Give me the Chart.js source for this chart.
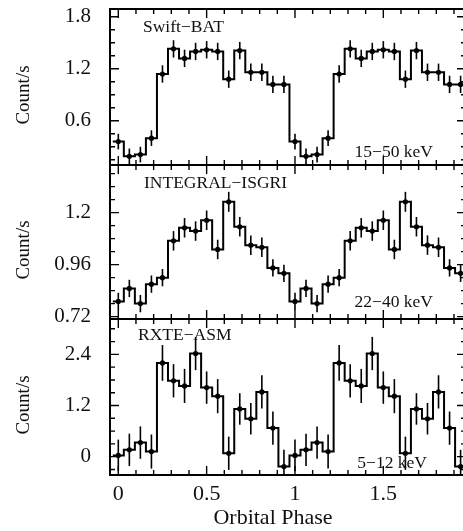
<!DOCTYPE html>
<html>
<head>
<meta charset="utf-8">
<script src="https://cdn.jsdelivr.net/npm/chart.js@4.4.1/dist/chart.umd.min.js"></script>
<style>
html, body { margin: 0; padding: 0; background: #fff; width: 463px; height: 531px; overflow: hidden; }
canvas { position: absolute; left: 0; top: 0; }
</style>
</head>
<body>
<canvas id="bat" width="470" height="531" style="width:470px;height:531px"></canvas>
<canvas id="isgri" width="470" height="531" style="width:470px;height:531px"></canvas>
<canvas id="asm" width="470" height="531" style="width:470px;height:531px"></canvas>
<script>
// orbital phase bin centres (light curve shown twice)
const phase = [0, 0.0625, 0.125, 0.1875, 0.25, 0.3125, 0.375, 0.4375,
    0.5, 0.5625, 0.625, 0.6875, 0.75, 0.8125, 0.875, 0.9375,
    1, 1.0625, 1.125, 1.1875, 1.25, 1.3125, 1.375, 1.4375,
    1.5, 1.5625, 1.625, 1.6875, 1.75, 1.8125, 1.875, 1.9375];
const binHalf = 0.03125;

// Swift-BAT 15-50 keV, one cycle
const batRate = [0.36, 0.19, 0.21, 0.40, 1.14, 1.43, 1.32, 1.40, 1.42, 1.40, 1.08, 1.41, 1.16, 1.16, 1.02, 1.02];
const batErr  = [0.09, 0.09, 0.09, 0.09, 0.10, 0.10, 0.10, 0.10, 0.10, 0.10, 0.10, 0.10, 0.10, 0.10, 0.10, 0.10];

// INTEGRAL-ISGRI 22-40 keV, one cycle
const isgriRate = [0.79, 0.85, 0.78, 0.87, 0.90, 1.07, 1.13, 1.115, 1.165, 1.03, 1.25, 1.135, 1.05, 1.04, 0.945, 0.92];
const isgriErr  = [0.04, 0.04, 0.04, 0.04, 0.04, 0.045, 0.045, 0.045, 0.045, 0.045, 0.046, 0.045, 0.045, 0.045, 0.04, 0.04];

// RXTE-ASM 5-12 keV, one cycle
const asmRate = [0.03, 0.16, 0.33, 0.12, 2.20, 1.78, 1.66, 2.42, 1.62, 1.42, 0.08, 1.12, 0.89, 1.52, 0.67, -0.23];
const asmErr  = [0.37, 0.38, 0.38, 0.40, 0.42, 0.39, 0.40, 0.39, 0.38, 0.40, 0.39, 0.37, 0.37, 0.39, 0.39, 0.39];

// axis ticks
const xTicks = [0, 0.5, 1, 1.5];
const batTicks = [0.6, 1.2, 1.8];
const isgriTicks = [0.72, 0.96, 1.2];
const asmTicks = [0, 1.2, 2.4];

const serif = '"Liberation Serif", "DejaVu Serif", serif';
const ink = '#111';

function stepPoints(rate) {
    const v = rate.concat(rate);
    const pts = phase.map((p, i) => ({x: p - binHalf, y: v[i]}));
    pts.push({x: phase[phase.length - 1] + binHalf, y: v[v.length - 1]});
    return pts;
}

function centrePoints(rate) {
    const v = rate.concat(rate);
    return phase.map((p, i) => ({x: p, y: v[i]}));
}

// error bars, frame, inward ticks and labels
function deco(cfg) {
    return {
        id: 'deco',
        afterDatasetsDraw(chart) {
            const {ctx, chartArea: a, scales: {x, y}} = chart;
            const ds = chart.data.datasets[1];
            const err = cfg.err.concat(cfg.err);

            ctx.save();
            ctx.beginPath();
            ctx.rect(a.left, a.top, a.right - a.left, a.bottom - a.top);
            ctx.clip();
            ctx.strokeStyle = '#000';
            ctx.lineWidth = 1.6;
            ds.data.forEach((p, i) => {
                const px = x.getPixelForValue(p.x);
                ctx.beginPath();
                ctx.moveTo(px, y.getPixelForValue(p.y - err[i]));
                ctx.lineTo(px, y.getPixelForValue(p.y + err[i]));
                ctx.stroke();
            });
            ctx.restore();

            ctx.save();
            ctx.strokeStyle = '#000';
            ctx.lineWidth = 2;
            ctx.strokeRect(a.left, a.top, a.right - a.left, a.bottom - a.top);

            ctx.lineWidth = 1.4;
            for (let i = 0; i <= 19; i++) {
                const v = i / 10;
                const len = i % 5 === 0 ? 9 : 5;
                const px = x.getPixelForValue(v);
                ctx.beginPath();
                ctx.moveTo(px, a.top); ctx.lineTo(px, a.top + len);
                ctx.moveTo(px, a.bottom); ctx.lineTo(px, a.bottom - len);
                ctx.stroke();
            }
            for (let v = cfg.minorStart; v <= y.max + 1e-9; v += cfg.minorStep) {
                const major = cfg.ticks.some(t => Math.abs(t - v) < 1e-6);
                const len = major ? 9 : 5;
                const py = y.getPixelForValue(v);
                ctx.beginPath();
                ctx.moveTo(a.left, py); ctx.lineTo(a.left + len, py);
                ctx.moveTo(a.right, py); ctx.lineTo(a.right - len, py);
                ctx.stroke();
            }

            ctx.fillStyle = ink;
            ctx.font = '17.5px ' + serif;
            ctx.textBaseline = 'middle';
            ctx.textAlign = 'left';
            ctx.fillText(cfg.name, cfg.nameX, cfg.nameY);
            ctx.textAlign = 'right';
            ctx.fillText(cfg.band, cfg.bandX, cfg.bandY);

            ctx.font = '19px ' + serif;
            ctx.textAlign = 'center';
            ctx.translate(24, (a.top + a.bottom) / 2 + 8);
            ctx.rotate(-Math.PI / 2);
            ctx.fillText('Count/s', 0, 0);
            ctx.restore();

            if (cfg.xTitle) {
                ctx.save();
                ctx.fillStyle = ink;
                ctx.font = '22px ' + serif;
                ctx.textAlign = 'center';
                ctx.textBaseline = 'middle';
                ctx.fillText(cfg.xTitle, 273, 518);
                ctx.restore();
            }
        }
    };
}

function makePanel(id, rate, cfg) {
    return new Chart(id, {
        type: 'line',
        data: {
            datasets: [
                {
                    data: stepPoints(rate),
                    stepped: 'before',
                    borderColor: '#000',
                    borderWidth: 2,
                    pointRadius: 0,
                    fill: false,
                },
                {
                    data: centrePoints(rate),
                    showLine: false,
                    pointRadius: 2.6,
                    pointBackgroundColor: '#000',
                    pointBorderWidth: 0,
                }]
        },
        options: {
            responsive: false,
            animation: false,
            devicePixelRatio: 1,
            layout: {
                padding: {left: 0, right: 4, top: cfg.top, bottom: cfg.bottom},
            },
            scales: {
                x: {
                    type: 'linear',
                    min: -0.047,
                    max: 1.968,
                    display: cfg.showX,
                    grid: {display: false, drawTicks: false},
                    border: {display: false},
                    afterBuildTicks: (s) => { s.ticks = xTicks.map(v => ({value: v})); },
                    afterFit: (s) => {
                        s.height = cfg.showX ? 40 : 0;
                        s.paddingLeft = 0;
                        s.paddingRight = 0;
                    },
                    ticks: {
                        padding: 6,
                        color: ink,
                        font: {family: serif, size: 22},
                        callback: (v) => String(v),
                        maxRotation: 0,
                    },
                },
                y: {
                    min: cfg.min,
                    max: cfg.max,
                    grid: {display: false, drawTicks: false},
                    border: {display: false},
                    afterBuildTicks: (s) => { s.ticks = cfg.ticks.map(v => ({value: v})); },
                    afterFit: (s) => { s.width = 110; s.paddingTop = 0; s.paddingBottom = 0; },
                    ticks: {
                        padding: 19,
                        color: ink,
                        font: {family: serif, size: 21},
                        callback: (v) => String(v),
                    },
                },
            },
            plugins: {
                legend: {display: false},
                tooltip: {enabled: false},
            },
        },
        plugins: [deco(cfg)],
    });
}

makePanel('bat', batRate, {
    top: 9, bottom: 531 - 165, showX: false, min: 0.09, max: 1.89,
    ticks: batTicks, minorStart: 0.15, minorStep: 0.15, err: batErr,
    name: 'Swift\u2212BAT', nameX: 143, nameY: 27,
    band: '15\u221250 keV', bandX: 433, bandY: 152,
});

makePanel('isgri', isgriRate, {
    top: 165, bottom: 531 - 319, showX: false, min: 0.709, max: 1.42,
    ticks: isgriTicks, minorStart: 0.72, minorStep: 0.06, err: isgriErr,
    name: 'INTEGRAL\u2212ISGRI', nameX: 144, nameY: 183,
    band: '22\u221240 keV', bandX: 433, bandY: 302,
});

makePanel('asm', asmRate, {
    top: 319, bottom: 531 - 475 - 40, showX: true, min: -0.43, max: 3.23,
    ticks: asmTicks, minorStart: -0.3, minorStep: 0.3, err: asmErr,
    name: 'RXTE\u2212ASM', nameX: 138, nameY: 335,
    band: '5\u221212 keV', bandX: 427, bandY: 463,
    xTitle: 'Orbital Phase',
});
</script>
</body>
</html>
